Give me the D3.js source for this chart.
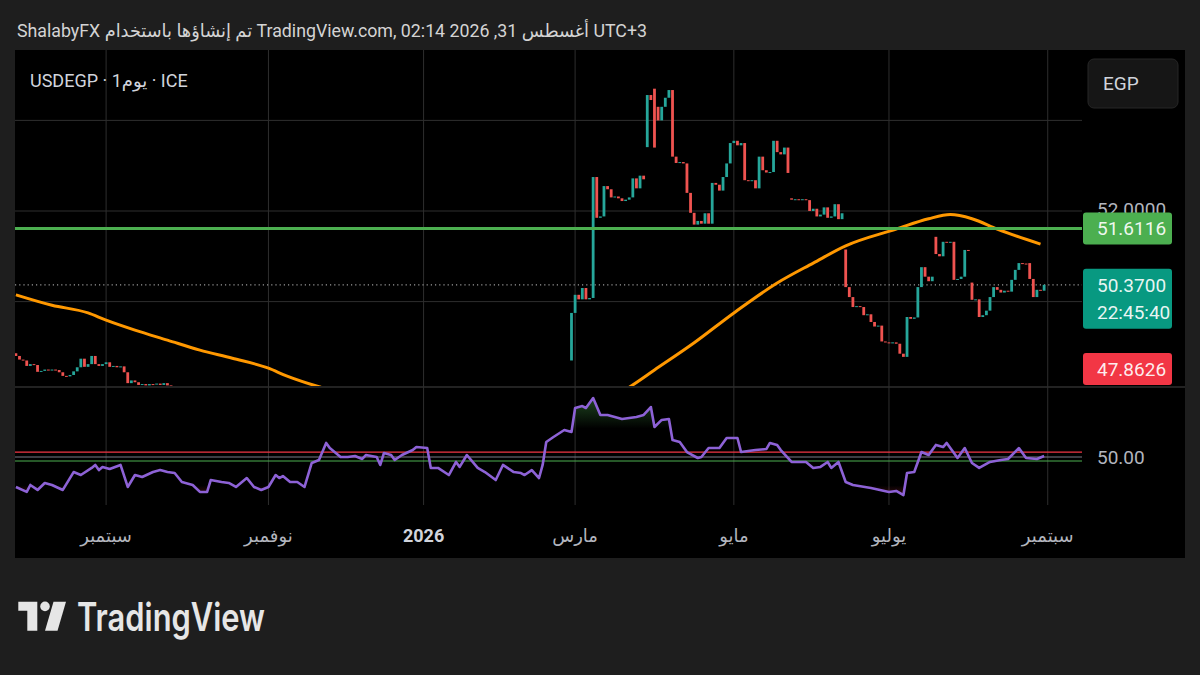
<!DOCTYPE html>
<html>
<head>
<meta charset="utf-8">
<script src="https://cdnjs.cloudflare.com/ajax/libs/d3/7.8.5/d3.min.js"></script>
<style>
  body { margin: 0; background: #1e1e1e; }
  svg { display: block; }
</style>
</head>
<body>
<div id="chart"></div>
<script>

// daily closes, one per weekday from 28 Jul 2025 to 31 Aug 2026
var closes = [
  48.80, 48.72, 48.70, 48.58, 48.62, 48.60, 48.45, 48.47, 48.50, 48.48,
  48.50, 48.49, 48.44, 48.36, 48.35, 48.38, 48.46, 48.55, 48.74, 48.56,
  48.62, 48.80, 48.62, 48.58, 48.62, 48.66, 48.56, 48.58, 48.55, 48.57,
  48.44, 48.20, 48.26, 48.22, 48.16, 48.18, 48.15, 48.18, 48.17, 48.19,
  48.16, 48.20, 48.15, 48.12, 48.08, 48.02, 47.95, 47.90, 47.88, 47.82,
  47.78, 47.75, 47.70, 47.68, 47.74, 47.72, 47.70, 47.68, 47.66, 47.62,
  47.58, 47.62, 47.64, 47.66, 47.60, 47.55, 47.52, 47.50, 47.48, 47.46,
  47.52, 47.56, 47.54, 47.55, 47.52, 47.50, 47.49, 47.48, 47.47, 47.44,
  47.42, 47.50, 47.58, 47.62, 47.70, 47.76, 47.72, 47.70, 47.68, 47.68,
  47.69, 47.70, 47.68, 47.70, 47.69, 47.67, 47.68, 47.70, 47.69, 47.68,
  47.66, 47.62, 47.68, 47.67, 47.64, 47.66, 47.68, 47.70, 47.72, 47.74,
  47.76, 47.75, 47.76, 47.76, 47.62, 47.60, 47.60, 47.58, 47.55, 47.52,
  47.48, 47.56, 47.54, 47.52, 47.58, 47.60, 47.55, 47.50, 47.48, 47.46,
  47.42, 47.40, 47.36, 47.40, 47.44, 47.46, 47.42, 47.40, 47.39, 47.38,
  47.37, 47.35, 47.38, 47.40, 47.36, 47.33, 47.42, 47.55, 47.60, 47.65,
  47.68, 47.74, 47.78, 47.76, 49.75, 50.15, 50.05, 50.30, 50.05, 50.08,
  52.75, 51.85, 51.88, 52.55, 52.48, 52.30, 52.32, 52.28, 52.22, 52.25,
  52.30, 52.72, 52.50, 52.78, 52.70, 54.56, 54.45, 53.40, 54.00, 54.30,
  54.50, 54.67, 53.20, 53.06, 53.08, 53.05, 52.40, 51.96, 51.70, 51.78,
  51.72, 51.95, 51.72, 52.62, 52.58, 52.45, 52.75, 53.05, 53.50, 53.55,
  53.45, 53.50, 52.68, 52.66, 52.68, 52.50, 53.20, 52.90, 52.85, 52.86,
  53.55, 53.30, 53.25, 53.40, 52.84, 52.25, 52.26, 52.24, 52.26, 52.24,
  52.00, 52.05, 51.88, 51.92, 52.08, 51.85, 51.88, 52.15, 51.82, 51.95,
  50.32, 50.10, 49.88, 49.90, 49.88, 49.70, 49.72, 49.55, 49.45, 49.47,
  49.12, 49.10, 49.08, 49.10, 49.07, 48.85, 48.78, 49.66, 49.62, 49.65,
  50.32, 50.76, 50.55, 50.45, 50.55, 51.05, 51.00, 51.32, 51.30, 51.32,
  50.48, 50.50, 50.55, 51.14, 51.12, 50.04, 50.05, 49.66, 49.70, 49.80,
  50.10, 50.32, 50.26, 50.20, 50.24, 50.22, 50.48, 50.70, 50.85, 50.84,
  50.82, 50.50, 50.10, 50.26, 50.24, 50.37
];

// opens that do not follow the previous close (gaps)
var gapOpens = {0: 48.86, 154: 48.70, 175: 53.41, 177: 54.70, 178: 54.30,
                215: 52.28, 230: 51.15, 255: 51.43, 265: 50.42, 281: 50.85};

// orange moving average, read at these bars
var maBars   = [0, 10, 20, 25, 33, 42, 51, 60, 70, 75, 84, 95, 110, 130, 150, 160, 170, 177, 188, 199, 211, 221, 230, 244, 253, 259, 265, 272, 284];
var maValues = [50.15, 49.92, 49.75, 49.59, 49.37, 49.15, 48.93, 48.75, 48.53, 48.36, 48.12, 47.90, 47.72, 47.58, 47.50, 47.68, 48.11, 48.49, 49.09, 49.75, 50.41, 50.85, 51.23, 51.60, 51.83, 51.92, 51.83, 51.60, 51.27];

// RSI line, read at these bars
var rsiBars = [0, 3, 4, 6, 8, 10, 13, 16, 18, 21, 22, 23, 24, 26, 29, 31, 33, 35, 38, 40,
  42, 44, 46, 49, 51, 53, 54, 57, 59, 61, 64, 66, 68, 70, 72, 73, 74, 76, 78, 80,
  82, 84, 86, 87, 90, 92, 94, 96, 97, 100, 101, 102, 104, 105, 107, 110, 111, 114, 115, 117,
  120, 122, 123, 125, 128, 130, 133, 135, 138, 140, 141, 143, 145, 146, 147, 149, 152, 154, 155, 157,
  158, 160, 162, 164, 168, 172, 174, 176, 177, 179, 181, 182, 184, 186, 189, 190, 192, 195, 197, 200,
  201, 205, 208, 209, 211, 212, 215, 219, 221, 223, 225, 226, 228, 230, 232, 237, 242, 244, 246, 247,
  249, 251, 253, 255, 257, 258, 261, 263, 265, 267, 270, 273, 275, 278, 280, 283, 285];
var rsiValues = [28.9, 25.4, 30.3, 26.8, 31.7, 30.3, 26.8, 39.4, 37.3, 42.3, 44.4, 40.8, 43.0, 41.5, 44.4, 28.9, 37.3, 35.9, 39.4, 40.8,
  39.4, 38.7, 32.4, 30.3, 25.4, 25.4, 33.8, 32.4, 31.7, 28.9, 35.2, 28.9, 26.8, 28.9, 37.3, 35.2, 36.6, 32.4, 32.4, 28.9,
  45.8, 47.9, 59.9, 56.3, 50.0, 50.0, 50.7, 48.6, 51.4, 50.0, 44.4, 52.8, 51.4, 47.9, 51.4, 54.9, 57.0, 56.3, 42.3, 42.3,
  37.3, 46.5, 43.0, 51.4, 42.3, 39.4, 33.8, 44.4, 39.4, 38.7, 37.3, 40.8, 35.2, 44.4, 60.6, 64.1, 69.0, 67.6, 84.5, 85.9,
  84.5, 91.5, 79.6, 79.6, 76.8, 78.2, 79.6, 85.2, 71.1, 76.1, 76.8, 62.0, 60.6, 53.5, 49.3, 50.0, 56.3, 56.3, 63.4, 63.4,
  53.5, 54.9, 55.6, 59.9, 58.5, 54.9, 46.5, 46.5, 42.3, 43.0, 46.5, 42.3, 46.5, 32.4, 30.3, 28.2, 25.4, 26.1, 23.2, 38.7,
  39.4, 53.5, 51.4, 58.5, 57.0, 59.9, 49.3, 56.3, 45.8, 42.3, 46.5, 47.9, 48.6, 56.3, 49.3, 48.6, 50.7];

var monthLabels = ["سبتمبر", "نوفمبر", "2026", "مارس", "مايو", "يوليو", "سبتمبر"];
var monthStarts = ["2025-09-01", "2025-11-01", "2026-01-01", "2026-03-01", "2026-05-01", "2026-07-01", "2026-09-01"];

var priceGrid = [54, 52, 50];
var priceAxisLabels = [52];
var hLinePrice = 51.6116;
var lastPrice = 50.37;
var countdown = "22:45:40";
var lowMark = 47.8626;
var rsiLevels = [53.5, 50, 47.2];

// ------------------------------------------------------------------

var W = 1200, H = 675;
var left = 15, plotRight = 1082, panelRight = 1185;
var mainTop = 50, mainBottom = 386, rsiTop = 388, rsiBottom = 505, panelBottom = 558;
var font = "Roboto, 'DejaVu Sans', sans-serif";
var upColor = "#26a69a", downColor = "#ef5350";

var dates = d3.timeDay.range(new Date(2025, 6, 28), new Date(2026, 8, 1))
  .filter(function (d) { return d.getDay() % 6 !== 0; });

var bars = closes.map(function (c, i) {
  var o = gapOpens[i] !== undefined ? gapOpens[i] : (i ? closes[i - 1] : c);
  return {i: i, date: dates[i], open: o, close: c};
});

var x = d3.scaleLinear().domain([-0.25, 295.5]).range([left, plotRight]);
var y = d3.scaleLinear().domain([48, 54]).range([392.2, 120.4]);
var rsiY = d3.scaleLinear().domain([30, 70]).range([485.4, 428.6]);

var svg = d3.select("#chart").append("svg")
  .attr("width", W).attr("height", H);

var defs = svg.append("defs");
defs.append("clipPath").attr("id", "mainClip").append("rect")
  .attr("x", left).attr("y", mainTop).attr("width", plotRight - left).attr("height", mainBottom - mainTop);
defs.append("clipPath").attr("id", "rsiClip").append("rect")
  .attr("x", left).attr("y", rsiTop).attr("width", plotRight - left).attr("height", rsiBottom - rsiTop);
defs.append("clipPath").attr("id", "obClip").append("rect")
  .attr("x", left).attr("y", rsiTop).attr("width", plotRight - left).attr("height", rsiY(70) - rsiTop);
defs.append("clipPath").attr("id", "osClip").append("rect")
  .attr("x", left).attr("y", rsiY(30)).attr("width", plotRight - left).attr("height", rsiBottom - rsiY(30));

var gOb = defs.append("linearGradient").attr("id", "obFill")
  .attr("gradientUnits", "userSpaceOnUse").attr("x1", 0).attr("x2", 0)
  .attr("y1", rsiY(92)).attr("y2", rsiY(70));
gOb.append("stop").attr("offset", 0).attr("stop-color", "#4caf50").attr("stop-opacity", 0.4);
gOb.append("stop").attr("offset", 1).attr("stop-color", "#4caf50").attr("stop-opacity", 0);
var gOs = defs.append("linearGradient").attr("id", "osFill")
  .attr("gradientUnits", "userSpaceOnUse").attr("x1", 0).attr("x2", 0)
  .attr("y1", rsiY(30)).attr("y2", rsiY(20));
gOs.append("stop").attr("offset", 0).attr("stop-color", "#f23645").attr("stop-opacity", 0);
gOs.append("stop").attr("offset", 1).attr("stop-color", "#f23645").attr("stop-opacity", 0.35);

// black chart panel
svg.append("rect")
  .attr("x", left).attr("y", mainTop)
  .attr("width", panelRight - left).attr("height", panelBottom - mainTop)
  .attr("fill", "#000");

// header
svg.append("text")
  .attr("x", 17).attr("y", 37)
  .attr("font-family", font).attr("font-size", 18)
  .attr("textLength", 630).attr("lengthAdjust", "spacingAndGlyphs")
  .attr("fill", "#d4d4d4")
  .text("ShalabyFX تم إنشاؤها باستخدام TradingView.com, 02:14 2026 ,31 أغسطس UTC+3");

// vertical grid
var tickIdx = monthStarts.map(function (s) {
  return d3.bisectLeft(dates, d3.timeParse("%Y-%m-%d")(s));
});
svg.append("g").selectAll("line")
  .data(tickIdx).enter().append("line")
    .attr("x1", function (d) { return x(d); }).attr("x2", function (d) { return x(d); })
    .attr("y1", mainTop).attr("y2", rsiBottom)
    .attr("stroke", "#2e2e2e").attr("stroke-width", 1);

// horizontal price grid
svg.append("g").selectAll("line")
  .data(priceGrid).enter().append("line")
    .attr("x1", left).attr("x2", plotRight)
    .attr("y1", function (d) { return y(d); }).attr("y2", function (d) { return y(d); })
    .attr("stroke", "#2e2e2e").attr("stroke-width", 1);

// pane separator
svg.append("line")
  .attr("x1", left).attr("x2", panelRight)
  .attr("y1", 387).attr("y2", 387)
  .attr("stroke", "#2e2e2e").attr("stroke-width", 1.5);

var main = svg.append("g").attr("clip-path", "url(#mainClip)");

// last price dotted line
main.append("line")
  .attr("x1", left).attr("x2", plotRight)
  .attr("y1", y(lastPrice)).attr("y2", y(lastPrice))
  .attr("stroke", "#9a9a9a").attr("stroke-width", 1.2)
  .attr("stroke-dasharray", "1.2,3");

// candles
main.append("g").selectAll("rect")
  .data(bars).enter().append("rect")
    .attr("x", function (d) { return x(d.i) - 1.4; })
    .attr("width", 2.8)
    .attr("y", function (d) { return y(Math.max(d.open, d.close)); })
    .attr("height", function (d) { return Math.max(1, Math.abs(y(d.open) - y(d.close))); })
    .attr("fill", function (d) { return d.close >= d.open ? upColor : downColor; });

// moving average
main.append("path")
  .datum(maBars.map(function (b, k) { return [b, maValues[k]]; }))
  .attr("fill", "none")
  .attr("stroke", "#ff9800").attr("stroke-width", 3)
  .attr("d", d3.line()
    .x(function (d) { return x(d[0]); })
    .y(function (d) { return y(d[1]); })
    .curve(d3.curveMonotoneX));

// horizontal line
main.append("line")
  .attr("x1", left).attr("x2", plotRight)
  .attr("y1", y(hLinePrice)).attr("y2", y(hLinePrice))
  .attr("stroke", "#4caf50").attr("stroke-width", 3);

// symbol title
svg.append("text")
  .attr("x", 30).attr("y", 87)
  .attr("font-family", font).attr("font-size", 18)
  .attr("fill", "#d1d4dc")
  .text("USDEGP · 1يوم · ICE");

// price axis labels (the 52 label sits half under the green tag, as in the source)
svg.append("g").selectAll("text")
  .data(priceAxisLabels).enter().append("text")
    .attr("x", 1097).attr("y", function (d) { return y(d) - 2; })
    .attr("dy", "0.36em")
    .attr("font-family", font).attr("font-size", 19)
    .attr("fill", "#b2b5be")
    .text(function (d) { return d.toFixed(4); });

// currency button
svg.append("rect")
  .attr("x", 1088).attr("y", 59).attr("width", 90).attr("height", 49).attr("rx", 6)
  .attr("fill", "#161616").attr("stroke", "#262626");
svg.append("text")
  .attr("x", 1103).attr("y", 83).attr("dy", "0.36em")
  .attr("font-family", font).attr("font-size", 19)
  .attr("fill", "#d1d4dc").text("EGP");

// value tags
function tag(val, color, lines) {
  var h = lines.length === 1 ? 32 : 60;
  var cy = Math.min(y(val), mainBottom - 17);
  var top = cy - 16;
  svg.append("rect")
    .attr("x", 1083).attr("y", top).attr("width", 89).attr("height", h).attr("rx", 3)
    .attr("fill", color);
  lines.forEach(function (t, k) {
    svg.append("text")
      .attr("x", 1097).attr("y", cy + k * 27).attr("dy", "0.36em")
      .attr("font-family", font).attr("font-size", 19)
      .attr("fill", "#ffffff").attr("fill-opacity", 0.92)
      .text(t);
  });
}
tag(hLinePrice, "#4caf50", [hLinePrice.toFixed(4)]);
tag(lastPrice, "#089981", [lastPrice.toFixed(4), countdown]);
tag(lowMark, "#f23645", [lowMark.toFixed(4)]);

// RSI pane
var rsi = svg.append("g").attr("clip-path", "url(#rsiClip)");
var rsiPts = rsiBars.map(function (b, k) { return [b, rsiValues[k]]; });

rsi.append("path").datum(rsiPts)
  .attr("clip-path", "url(#obClip)")
  .attr("fill", "url(#obFill)")
  .attr("d", d3.area()
    .x(function (d) { return x(d[0]); })
    .y0(rsiY(70))
    .y1(function (d) { return rsiY(d[1]); }));
rsi.append("path").datum(rsiPts)
  .attr("clip-path", "url(#osClip)")
  .attr("fill", "url(#osFill)")
  .attr("d", d3.area()
    .x(function (d) { return x(d[0]); })
    .y0(rsiY(30))
    .y1(function (d) { return rsiY(d[1]); }));

var levelColors = ["#f23645", "#787b86", "#4caf50"];
rsi.append("g").selectAll("line")
  .data(rsiLevels).enter().append("line")
    .attr("x1", left).attr("x2", plotRight)
    .attr("y1", function (d) { return rsiY(d); }).attr("y2", function (d) { return rsiY(d); })
    .attr("stroke", function (d, k) { return levelColors[k]; })
    .attr("stroke-width", 1.2);

rsi.append("path").datum(rsiPts)
  .attr("fill", "none")
  .attr("stroke", "#8d62d6").attr("stroke-width", 2.6)
  .attr("stroke-linejoin", "round")
  .attr("d", d3.line()
    .x(function (d) { return x(d[0]); })
    .y(function (d) { return rsiY(d[1]); }));

svg.append("text")
  .attr("x", 1097).attr("y", rsiY(50)).attr("dy", "0.36em")
  .attr("font-family", font).attr("font-size", 19)
  .attr("fill", "#b2b5be").text("50.00");

// time axis
svg.append("g").selectAll("text")
  .data(tickIdx).enter().append("text")
    .attr("x", function (d) { return x(d); })
    .attr("y", 536).attr("dy", "0.36em")
    .attr("text-anchor", "middle")
    .attr("font-family", font).attr("font-size", 18)
    .attr("font-weight", function (d, k) { return monthLabels[k] === "2026" ? 700 : 400; })
    .attr("fill", function (d, k) { return monthLabels[k] === "2026" ? "#d1d4dc" : "#b2b5be"; })
    .text(function (d, k) { return monthLabels[k]; });

// TradingView logo
var logo = svg.append("g").attr("fill", "#e6e6e6");
logo.append("path").attr("d", "M18.3,601.7H37.3V630.7H27.3V610.7H18.3Z");
logo.append("circle").attr("cx", 45).attr("cy", 606.4).attr("r", 4.8);
logo.append("path").attr("d", "M53.5,601.7H66L57.5,630.7H45Z");
logo.append("text")
  .attr("x", 77).attr("y", 631)
  .attr("font-family", "Inter, Roboto, sans-serif").attr("font-size", 39).attr("font-weight", 600)
  .attr("textLength", 188).attr("lengthAdjust", "spacingAndGlyphs")
  .text("TradingView");

</script>
</body>
</html>
